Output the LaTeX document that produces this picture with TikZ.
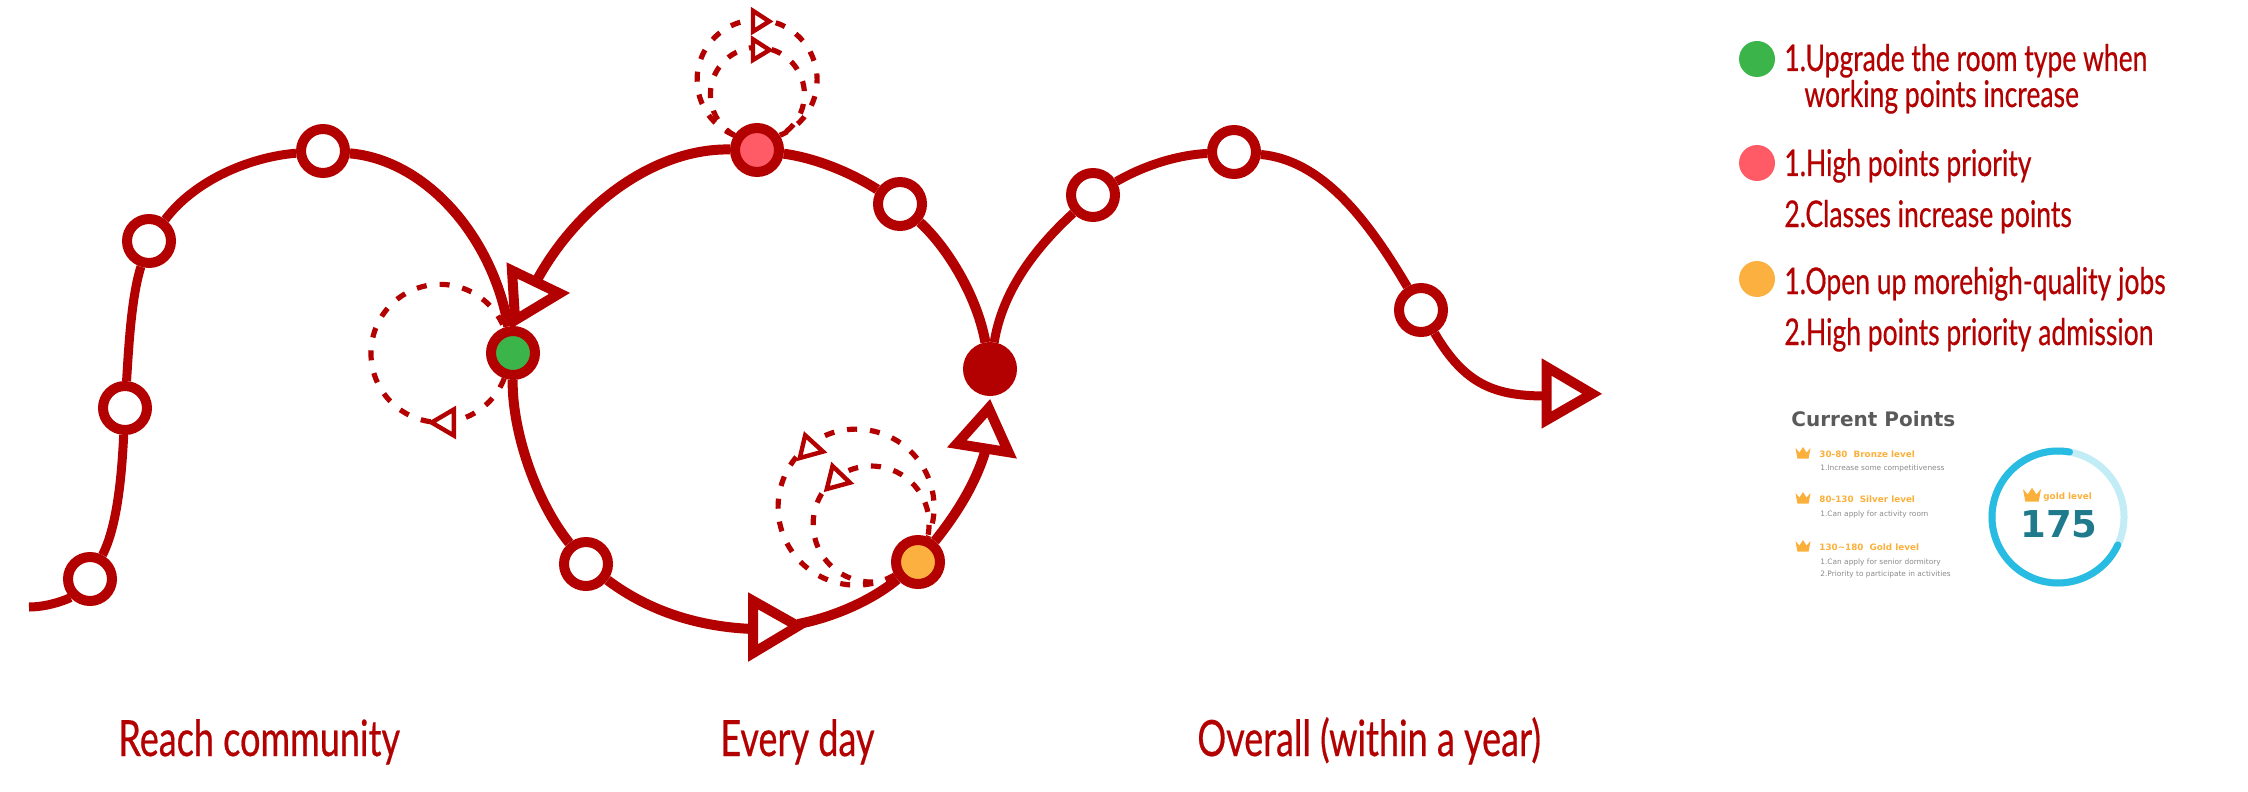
\documentclass[tikz,border=0pt]{standalone}
\usepackage{fontspec}
\setmainfont{Lato}
\newfontfamily\labelfont[FakeStretch=0.72,FakeBold=0.45]{Lato}
\newfontfamily\panelfont{DejaVu Sans}
\definecolor{trackred}{HTML}{B30000}
\definecolor{stopgreen}{HTML}{3BB54A}
\definecolor{stoppink}{HTML}{FF5B67}
\definecolor{stoporange}{HTML}{FBB040}
\definecolor{crowngold}{HTML}{FBB03B}
\definecolor{ringblue}{HTML}{29BCE2}
\definecolor{ringpale}{HTML}{C2ECF6}
\definecolor{scoreteal}{HTML}{1F7A8C}
\definecolor{titlegray}{HTML}{5A5A5A}
\definecolor{notegray}{HTML}{8A8A8A}
\tikzset{
  stopnode/.style={circle,draw=trackred,fill=white,line width=5pt,inner sep=0pt,minimum size=22pt},
  legenddot/.style={circle,inner sep=0pt,minimum size=18pt},
  trackline/.style={draw=trackred,line width=4.5pt},
  ringline/.style={draw=trackred,line width=5pt},
  bigtip/.style={draw=trackred,fill=white,line width=5pt,miter limit=10},
  looptip/.style={draw=trackred,fill=white,line width=2.2pt,miter limit=10},
  loopline/.style={draw=trackred,line width=2.6pt,dash pattern=on 5pt off 6.5pt},
  legendtext/.style={anchor=base west,inner sep=0pt,text=trackred,font=\labelfont\fontsize{18.4}{22}\selectfont},
  phasetext/.style={anchor=base west,inner sep=0pt,text=trackred,font=\labelfont\fontsize{25}{30}\selectfont},
  leveltext/.style={anchor=base west,inner sep=0pt,text=crowngold,font=\panelfont\bfseries\fontsize{4.4}{6}\selectfont},
  notetext/.style={anchor=base west,inner sep=0pt,text=notegray,font=\panelfont\fontsize{3.7}{5}\selectfont}
}
\newcommand{\crownicon}[2]{\fill[crowngold,shift={(#1)},scale=#2] (-7.5,-5) -- (-3.6,-0.5) -- (0,-6) -- (3.6,-0.5) -- (7.5,-5) -- (5.6,5.5) -- (-5.6,5.5) -- cycle;}
\begin{document}
\begin{tikzpicture}[x=0.5pt,y=-0.5pt]
\useasboundingbox (0,0) rectangle (2248,792);
\node (stopa) at (90,579) [stopnode]{};
\node (stopb) at (125,408) [stopnode]{};
\node (stopc) at (149,241) [stopnode]{};
\node (stopd) at (323,151) [stopnode]{};
\node (stopgreen) at (513,353) [stopnode,fill=stopgreen]{};
\node (stope) at (586,564) [stopnode]{};
\node (stoporange) at (918,562) [stopnode,fill=stoporange]{};
\node (stopdark) at (990,369) [stopnode,fill=trackred]{};
\node (stopf) at (900,204) [stopnode]{};
\node (stoppink) at (757,150) [stopnode,fill=stoppink]{};
\node (stopg) at (1093,195) [stopnode]{};
\node (stoph) at (1234,152) [stopnode]{};
\node (stopi) at (1421,310) [stopnode]{};
\coordinate (trackstart) at (29,607);
\coordinate (tipbottom) at (753,629);
\coordinate (tipbottomout) at (798,624);
\coordinate (tipright) at (985,452);
\coordinate (tipleft) at (537,280);
\coordinate (tipend) at (1546,396);
\draw[trackline] (trackstart) .. controls (50,607) and (70,598) .. (stopa);
\draw[trackline] (stopa) .. controls (118,525) and (122,470) .. (stopb);
\draw[trackline] (stopb) .. controls (129,340) and (132,295) .. (stopc);
\draw[trackline] (stopc) .. controls (195,180) and (250,157) .. (stopd);
\draw[ringline] (stopd) .. controls (425,160) and (492,235) .. (stopgreen);
\draw[ringline] (stopgreen) .. controls (512,430) and (535,500) .. (stope);
\draw[ringline] (stope) .. controls (650,612) and (700,627) .. (tipbottom);
\draw[ringline] (tipbottomout) .. controls (830,618) and (870,602) .. (stoporange);
\draw[ringline] (stoporange) .. controls (955,516) and (975,485) .. (tipright);
\draw[ringline] (stopdark) .. controls (978,300) and (950,250) .. (stopf);
\draw[ringline] (stopf) .. controls (850,172) and (815,158) .. (stoppink);
\draw[ringline] (stoppink) .. controls (655,148) and (578,205) .. (tipleft);
\draw[trackline] (stopdark) .. controls (1002,293) and (1033,250) .. (stopg);
\draw[trackline] (stopg) .. controls (1145,165) and (1178,155) .. (stoph);
\draw[trackline] (stoph) .. controls (1320,160) and (1365,215) .. (stopi);
\draw[trackline] (stopi) .. controls (1465,385) and (1495,396) .. (tipend);
\draw[loopline] (stopgreen.251) arc[start angle=21.4,end angle=338.6,radius=69];
\draw[loopline] (stoppink.147) arc[start angle=112.3,end angle=427.7,radius=60];
\draw[loopline] (stoppink.147) arc[start angle=119.4,end angle=420.6,radius=47];
\draw[loopline] (stoporange.209) arc[start angle=60.6,end angle=382.6,radius=78];
\draw[loopline] (stoporange.213) arc[start angle=65.3,end angle=372.7,radius=58];
\draw[bigtip] (512,270.5) -- (515.1,320.2) -- (559.5,293.4) -- cycle;
\draw[bigtip] (753.2,600.9) -- (753.2,652.9) -- (797.9,626.1) -- cycle;
\draw[bigtip] (988.7,408.2) -- (956.8,443.9) -- (1008.5,452.2) -- cycle;
\draw[bigtip] (1546.6,367) -- (1546.6,420) -- (1592.1,393.8) -- cycle;
\draw[looptip] (431.6,422.5) -- (453.8,409.5) -- (453.8,435.5) -- cycle;
\draw[looptip] (753,10.8) -- (753,31.5) -- (769.3,21.4) -- cycle;
\draw[looptip] (753,39.3) -- (753,60) -- (769.5,50) -- cycle;
\draw[looptip] (805.2,435.3) -- (799.8,458) -- (823,451.6) -- cycle;
\draw[looptip] (832.5,466) -- (826.8,489) -- (850,482.7) -- cycle;
\node (dotgreen) at (1757,59) [legenddot,fill=stopgreen]{};
\node (dotpink) at (1757,163) [legenddot,fill=stoppink]{};
\node (dotorange) at (1757,279) [legenddot,fill=stoporange]{};
\node (greenone) at (1784,71) [legendtext]{1.Upgrade the room type when};
\node (greentwo) at (1804,107) [legendtext]{working points increase};
\node (pinkone) at (1784,176) [legendtext]{1.High points priority};
\node (pinktwo) at (1784,227) [legendtext]{2.Classes increase points};
\node (orangeone) at (1784,294) [legendtext]{1.Open up morehigh-quality jobs};
\node (orangetwo) at (1784,345) [legendtext]{2.High points priority admission};
\node (phasea) at (118,756) [phasetext]{Reach community};
\node (phaseb) at (720,756) [phasetext]{Every day};
\node (phasec) at (1197,756) [phasetext]{Overall (within a year)};
\node (pointstitle) at (1791,426) [anchor=base west,inner sep=0pt,text=titlegray,font=\panelfont\bfseries\fontsize{10}{12}\selectfont]{Current Points};
\crownicon{1803,453}{1}
\crownicon{1803,498}{1}
\crownicon{1803,546}{1}
\node (levela) at (1819,457) [leveltext]{30-80\ \ Bronze level};
\node (notea) at (1820,470) [notetext]{1.Increase some competitiveness};
\node (levelb) at (1819,502) [leveltext]{80-130\ \ Silver level};
\node (noteb) at (1820,516) [notetext]{1.Can apply for activity room};
\node (levelc) at (1819,550) [leveltext]{130\textasciitilde180\ \ Gold level};
\node (notec) at (1820,564) [notetext]{1.Can apply for senior dormitory};
\node (noted) at (1820,576) [notetext]{2.Priority to participate in activities};
\coordinate (ringcentre) at (2058,517);
\draw[ringpale,line width=3.5pt] (ringcentre) circle[radius=66];
\draw[ringblue,line width=3.5pt,line cap=round] (2058,517) ++(-80:66) arc[start angle=-80,end angle=-335,radius=66];
\crownicon{2032,495}{1.2}
\node (goldlevel) at (2043,499) [leveltext]{gold level};
\node (score) at (2020,537) [anchor=base west,inner sep=0pt,text=scoreteal,font=\panelfont\bfseries\fontsize{18.5}{20}\selectfont]{175};
\end{tikzpicture}
\end{document}
